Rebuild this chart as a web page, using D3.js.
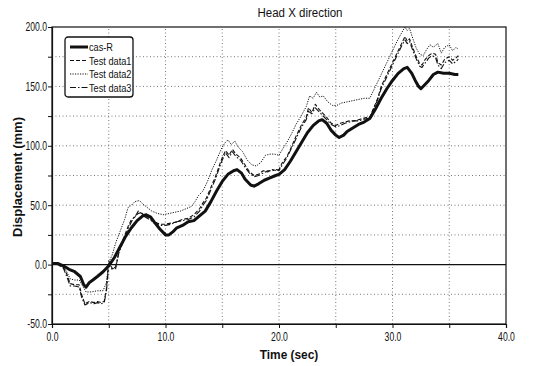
<!DOCTYPE html>
<html>
<head>
<meta charset="utf-8">
<script src="https://cdn.jsdelivr.net/npm/d3@7"></script>
<style>
  body { margin: 0; background: #fff; }
  svg text { font-family: "Liberation Sans Narrow", "Arial Narrow", "Liberation Sans", Arial, sans-serif; fill: #111; }
</style>
</head>
<body>
<svg id="canvas" width="556" height="366"></svg>
<script>
// values, [time (sec), displacement (mm)]
let casR = [[0,1],[0.5,1],[1,-1],[1.5,-4],[2,-6],[2.5,-10],[2.8,-17],[3,-19],[3.3,-15],[3.6,-13],[4,-10],[4.5,-6],[5,-1],[5.5,6],[6,15],[6.5,24],[7,31],[7.5,37],[8,41],[8.3,42],[8.7,40],[9,36],[9.5,30],[10,25],[10.3,25],[10.7,28],[11,31],[11.5,33],[12,36],[12.5,37],[13,41],[13.5,45],[14,53],[14.5,62],[15,70],[15.5,76],[16,79],[16.3,80],[16.7,77],[17,72],[17.5,67],[17.8,66],[18.2,68],[18.7,71],[19.2,73],[19.7,75],[20,76],[20.5,80],[21,87],[21.5,95],[22,103],[22.5,111],[23,117],[23.5,121],[23.8,122],[24.2,119],[24.6,113],[25,109],[25.3,107],[25.7,109],[26,112],[26.5,115],[27,118],[27.5,120],[28,123],[28.5,131],[29,140],[29.5,148],[30,155],[30.5,161],[31,165],[31.3,166],[31.7,161],[32,155],[32.3,150],[32.5,148],[32.8,151],[33.2,155],[33.6,160],[34,162],[34.5,161],[35,161],[35.5,160],[35.8,160]];

let testData1 = [[0,1],[0.5,0],[1,-2],[1.3,-8],[1.6,-16],[2,-17],[2.4,-17],[2.6,-25],[2.9,-33],[3.3,-31],[3.7,-32],[4,-31],[4.3,-32],[4.6,-31],[4.8,-20],[5,3],[5.3,-3],[5.6,-4],[5.9,12],[6.3,22],[6.7,32],[7,38],[7.3,40],[7.6,45],[7.9,43],[8.2,41],[8.6,39],[9,36],[9.5,34],[10,34],[10.5,35],[11,36],[11.5,38],[12,39],[12.5,42],[13,47],[13.3,52],[13.6,56],[14,65],[14.4,74],[14.8,85],[15,90],[15.3,96],[15.6,92],[15.9,97],[16.2,93],[16.6,90],[17,84],[17.4,78],[17.8,75],[18.2,76],[18.6,79],[19,78],[19.4,80],[19.8,79],[20,80],[20.3,86],[20.7,91],[21,97],[21.5,108],[22,118],[22.4,124],[22.6,132],[22.9,128],[23.2,135],[23.5,131],[23.8,128],[24.2,124],[24.6,119],[25,117],[25.4,119],[25.8,120],[26.2,121],[26.6,121],[27,122],[27.4,123],[27.8,124],[28,124],[28.3,131],[28.7,140],[29,150],[29.5,160],[30,170],[30.4,178],[30.8,186],[31.1,192],[31.3,188],[31.5,190],[31.8,182],[32.1,175],[32.4,169],[32.6,168],[32.9,173],[33.2,176],[33.5,178],[33.8,177],[34,170],[34.3,168],[34.6,173],[35,175],[35.3,172],[35.6,174],[35.8,176]];

let testData2 = [[0,1],[0.5,0],[1,-2],[1.3,-6],[1.6,-12],[2,-13],[2.4,-13],[2.7,-18],[3,-23],[3.5,-23],[4,-22],[4.5,-22],[4.8,-15],[5,2],[5.3,8],[5.6,18],[6,28],[6.4,38],[6.7,48],[7,50],[7.3,53],[7.7,54],[8,51],[8.4,48],[8.8,45],[9.3,43],[9.8,42],[10.3,43],[10.8,44],[11.3,45],[11.8,47],[12.3,49],[12.6,53],[12.9,58],[13.3,62],[13.7,70],[14.1,80],[14.5,88],[14.9,97],[15.2,102],[15.5,105],[15.8,101],[16.1,104],[16.4,99],[16.8,95],[17.2,88],[17.6,84],[18,83],[18.4,86],[18.8,92],[19.2,93],[19.6,93],[20,92],[20.3,97],[20.7,103],[21.1,110],[21.5,118],[22,126],[22.4,133],[22.7,142],[23,140],[23.3,145],[23.6,141],[23.9,142],[24.3,137],[24.7,134],[25.1,134],[25.5,136],[26,137],[26.5,138],[27,139],[27.5,140],[28,140],[28.3,146],[28.7,154],[29.1,162],[29.5,170],[30,180],[30.4,188],[30.8,195],[31.1,200],[31.3,197],[31.5,199],[31.8,190],[32.1,182],[32.4,177],[32.7,176],[33,181],[33.3,185],[33.6,183],[34,186],[34.3,178],[34.6,183],[35,185],[35.3,180],[35.6,183],[35.8,181]];

let testData3 = [[0,1],[0.5,0],[1,-3],[1.3,-10],[1.6,-18],[2,-18],[2.4,-19],[2.6,-27],[2.9,-34],[3.3,-32],[3.7,-33],[4,-32],[4.3,-33],[4.6,-32],[4.8,-22],[5,0],[5.3,-4],[5.6,-2],[5.9,10],[6.3,20],[6.7,30],[7,36],[7.3,41],[7.6,43],[7.9,44],[8.2,40],[8.6,38],[9,35],[9.5,33],[10,33],[10.5,34],[11,36],[11.5,37],[12,38],[12.5,40],[13,45],[13.3,50],[13.6,54],[14,63],[14.4,72],[14.8,83],[15,88],[15.3,94],[15.6,90],[15.9,95],[16.2,91],[16.6,88],[17,82],[17.4,77],[17.8,74],[18.2,75],[18.6,77],[19,79],[19.4,79],[19.8,80],[20,79],[20.3,84],[20.7,90],[21,96],[21.5,106],[22,116],[22.4,122],[22.6,129],[22.9,127],[23.2,132],[23.5,129],[23.8,126],[24.2,122],[24.6,118],[25,116],[25.4,117],[25.8,119],[26.2,120],[26.6,121],[27,121],[27.4,122],[27.8,123],[28,123],[28.3,130],[28.7,139],[29,148],[29.5,158],[30,168],[30.4,176],[30.8,184],[31.1,189],[31.3,186],[31.5,188],[31.8,180],[32.1,173],[32.4,167],[32.6,166],[32.9,170],[33.2,174],[33.5,176],[33.8,174],[34,168],[34.3,165],[34.6,170],[35,172],[35.3,169],[35.6,171],[35.8,173]];

let seriesNames = ['cas-R', 'Test data1', 'Test data2', 'Test data3'];
let xTicks = [0, 10, 20, 30, 40];
let yTicks = [-50, 0, 50, 100, 150, 200];

let width = 556, height = 366;
let margin = {top: 27, right: 50, bottom: 42, left: 52};

let canvas = d3.select('#canvas');

let x = d3.scaleLinear().domain([0, 40]).range([margin.left, width - margin.right]);
let y = d3.scaleLinear().domain([-50, 200]).range([height - margin.bottom, margin.top]);

// dotted grid, every 5 sec and every 25 mm
canvas.append('g')
    .selectAll('line')
    .data(d3.range(5, 40, 5))
    .enter()
    .append('line')
    .attr('x1', d => x(d)).attr('x2', d => x(d))
    .attr('y1', y(-50)).attr('y2', y(200))
    .attr('stroke', '#555')
    .attr('stroke-width', 0.8)
    .attr('stroke-dasharray', '1,2.5');

canvas.append('g')
    .selectAll('line')
    .data(d3.range(-25, 200, 25).filter(d => d !== 0))
    .enter()
    .append('line')
    .attr('x1', x(0)).attr('x2', x(40))
    .attr('y1', d => y(d)).attr('y2', d => y(d))
    .attr('stroke', '#555')
    .attr('stroke-width', 0.8)
    .attr('stroke-dasharray', '1,2.5');

// zero line
canvas.append('line')
    .attr('x1', x(0)).attr('x2', x(40))
    .attr('y1', y(0)).attr('y2', y(0))
    .attr('stroke', '#111')
    .attr('stroke-width', 1.3);

// plot frame
canvas.append('rect')
    .attr('x', x(0)).attr('y', y(200))
    .attr('width', x(40) - x(0))
    .attr('height', y(-50) - y(200))
    .attr('fill', 'none')
    .attr('stroke', '#111')
    .attr('stroke-width', 1.2);

// axes - labels every 10 sec / 50 mm, ticks in between
let xAxis = d3.axisBottom(x).tickValues(d3.range(0, 45, 5)).tickSize(4)
    .tickFormat(d => xTicks.includes(d) ? d.toFixed(1) : '');
let yAxis = d3.axisLeft(y).tickValues(d3.range(-50, 225, 25)).tickSize(4)
    .tickFormat(d => yTicks.includes(d) ? d.toFixed(1) : '');

canvas.append('g')
    .attr('transform', `translate(0,${y(-50)})`)
    .call(xAxis)
    .call(g => g.select('.domain').attr('stroke', '#111').attr('stroke-width', 1.2))
    .call(g => g.selectAll('.tick line').attr('stroke', '#111'))
    .call(g => g.selectAll('.tick text')
        .style('font-size', '12px')
        .attr('dy', '0.85em')
        .attr('transform', 'scale(0.72,1)'));

canvas.append('g')
    .attr('transform', `translate(${x(0)},0)`)
    .call(yAxis)
    .call(g => g.select('.domain').attr('stroke', '#111').attr('stroke-width', 1.2))
    .call(g => g.selectAll('.tick line').attr('stroke', '#111'))
    .call(g => g.selectAll('.tick text')
        .style('font-size', '12px')
        .attr('transform', 'scale(0.72,1)'));

// the four curves
let line = d3.line().x(d => x(d[0])).y(d => y(d[1]));

let series = [
    {name: seriesNames[1], data: testData1, width: 1.1, dash: '4,2'},
    {name: seriesNames[3], data: testData3, width: 1.1, dash: '6,2,1.5,2'},
    {name: seriesNames[2], data: testData2, width: 1, dash: '1.2,1.3'},
    {name: seriesNames[0], data: casR, width: 3, dash: null}
];

canvas.selectAll('path.series')
    .data(series)
    .enter()
    .append('path')
    .attr('class', 'series')
    .attr('d', d => line(d.data))
    .attr('fill', 'none')
    .attr('stroke', '#111')
    .attr('stroke-width', d => d.width)
    .attr('stroke-dasharray', d => d.dash)
    .attr('stroke-linejoin', 'round');

// legend
let legendItems = [series[3], series[0], series[2], series[1]];
let legend = canvas.append('g').attr('transform', 'translate(65,37)');

legend.append('rect')
    .attr('width', 68).attr('height', 60)
    .attr('rx', 3)
    .attr('fill', '#fff')
    .attr('stroke', '#111')
    .attr('stroke-width', 1.3);

legend.selectAll('line')
    .data(legendItems)
    .enter()
    .append('line')
    .attr('x1', 5).attr('x2', 23)
    .attr('y1', (d, i) => 10 + i * 13.5).attr('y2', (d, i) => 10 + i * 13.5)
    .attr('stroke', '#111')
    .attr('stroke-width', d => d.width)
    .attr('stroke-dasharray', d => d.dash);

legend.selectAll('text')
    .data(legendItems)
    .enter()
    .append('text')
    .attr('transform', (d, i) => `translate(24,${14 + i * 13.5}) scale(0.8,1)`)
    .style('font-size', '11.5px')
    .text(d => d.name);

// titles
canvas.append('text')
    .attr('transform', 'translate(300,17) scale(0.92,1)')
    .attr('text-anchor', 'middle')
    .style('font-size', '12.5px')
    .text('Head X direction');

canvas.append('text')
    .attr('transform', 'translate(289,359) scale(0.88,1)')
    .attr('text-anchor', 'middle')
    .style('font-size', '13.5px')
    .style('font-weight', 'bold')
    .text('Time (sec)');

canvas.append('text')
    .attr('transform', 'translate(22,177) rotate(-90)')
    .attr('text-anchor', 'middle')
    .style('font-family', '"Liberation Sans", Arial, sans-serif')
    .style('font-size', '13px')
    .style('font-weight', 'bold')
    .text('Displacement (mm)');
</script>
</body>
</html>
